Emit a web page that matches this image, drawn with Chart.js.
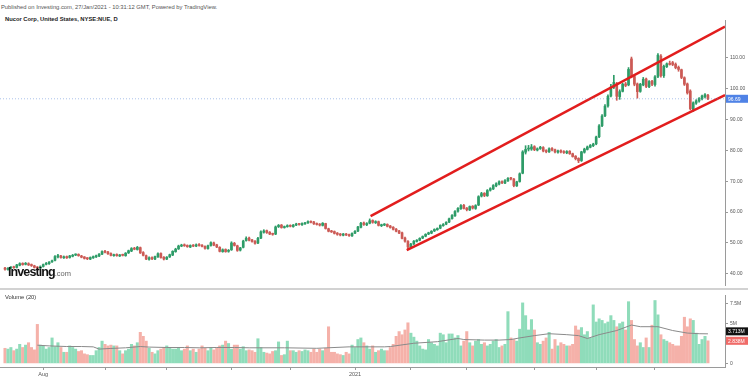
<!doctype html>
<html>
  <head>
    <title>Nucor Corp, NYSE:NUE, D</title>
    <script src="https://cdn.jsdelivr.net/npm/chart.js"></script>
    <style>
      body {
        margin: 0;
        width: 748px;
        height: 381px;
        overflow: hidden;
        background: #fff;
        position: relative;
        font-family: 'Liberation Sans', Arial, sans-serif;
      }
      canvas {
        position: absolute;
        left: 0;
      }
      #priceChart { top: 0; }
      #volumeChart { top: 290px; }
      .published {
        position: absolute; left: 1px; top: 4px;
        font-size: 5.8px; color: #555; white-space: nowrap;
      }
      .title {
        position: absolute; left: 5px; top: 16px;
        font-size: 5.8px; font-weight: bold; color: #222; white-space: nowrap;
      }
      .pane-sep {
        position: absolute; left: 0; top: 288px;
        width: 748px; height: 2px; background: #d2d2d2;
      }
      .vol-title {
        position: absolute; left: 5px; top: 294px;
        font-size: 5.8px; color: #333; white-space: nowrap;
      }
      .logo {
        position: absolute; left: 8px; top: 265px; white-space: nowrap;
        font-weight: bold; font-size: 12.5px; letter-spacing: -0.9px; color: #111;
      }
      .logo span {
        font-weight: normal; font-size: 7.5px; letter-spacing: 0; color: #666;
      }
    </style>
  </head>
  <body>
    <div class="published">Published on Investing.com, 27/Jan/2021 - 10:31:12 GMT, Powered by TradingView.</div>
    <div class="title">Nucor Corp, United States, NYSE:NUE, D</div>
    <canvas id="priceChart" width="748" height="290"></canvas>
    <div class="pane-sep"></div>
    <canvas id="volumeChart" width="748" height="91"></canvas>
    <div class="vol-title">Volume (20)</div>
    <div class="logo">Investing<span>.com</span></div>

    <script>
      // daily candles, one per trading day (mid Jul 2020 .. late Jun 2021)
      const opens = [
        41.9, 41.4, 41.9, 42.3, 42.1, 42.8, 43.4, 43.1, 43.3, 42.9,
        42.6, 42.2, 41.9, 42.4, 43.1, 43.3, 43.9, 44.4, 45.5, 45.8,
        45.2, 45.6, 45.3, 45.7, 46.1, 46.3, 45.8, 45.5, 45.1, 44.8,
        45.2, 45.5, 45.8, 46.4, 47.3, 47.1, 46.6, 45.9, 46.3, 45.8,
        46.2, 45.9, 46.8, 47.4, 48.3, 47.9, 48.5, 46.9, 45.9, 44.7,
        45.3, 44.8, 45.5, 46.6, 45.4, 44.8, 45.5, 46.1, 47.2, 48.1,
        49.0, 49.4, 49.2, 48.7, 49.3, 49.0, 49.5, 49.3, 48.9, 48.2,
        49.2, 50.0, 49.4, 48.6, 47.2, 47.9, 47.3, 47.8, 49.9, 49.1,
        47.7, 48.6, 50.8, 51.6, 51.0, 50.6, 50.0, 51.6, 53.5, 54.0,
        53.5, 53.0, 52.9, 55.3, 55.8, 55.0, 55.3, 55.7, 55.3, 55.8,
        56.2, 55.9, 56.2, 56.5, 57.0, 56.8, 56.3, 56.1, 55.7, 56.3,
        54.6, 53.9, 53.7, 53.2, 52.9, 52.5, 52.9, 52.7, 52.3, 53.2,
        53.9, 55.1, 56.5, 55.9, 56.4, 57.3, 56.6, 56.9, 55.6, 55.8,
        56.0, 55.5, 55.1, 54.5, 53.9, 53.3, 51.6, 50.5, 48.6, 49.7,
        50.5, 50.9, 51.6, 52.2, 52.9, 53.2, 53.9, 54.3, 54.8, 55.6,
        56.1, 56.8, 57.9, 58.8, 60.3, 61.1, 62.2, 61.3, 60.7, 61.9,
        61.2, 62.3, 65.2, 66.1, 65.3, 67.1, 67.5, 68.5, 69.1, 69.9,
        69.4, 70.1, 71.0, 70.7, 68.5, 69.9, 72.6, 79.4, 80.4, 80.4,
        81.2, 80.1, 80.6, 80.9, 79.9, 79.5, 80.6, 80.2, 79.4, 79.9,
        79.6, 79.2, 79.7, 78.9, 78.1, 77.4, 76.7, 79.4, 80.3, 81.0,
        81.5, 82.1, 84.4, 88.0, 91.2, 94.4, 97.6, 100.4, 101.6, 97.4,
        99.1, 101.5, 101.2, 109.6, 103.9, 101.5, 99.1, 101.2, 103.1, 100.6,
        102.4, 101.3, 103.9, 110.5, 104.2, 107.1, 108.2, 108.4, 107.9, 106.9,
        106.1, 103.5, 101.5, 99.2, 93.2, 95.3, 96.0, 96.7, 97.4, 97.8
      ];
      const highs = [
        42.1, 42.0, 42.4, 42.5, 43.1, 43.6, 43.6, 43.7, 43.6, 43.2,
        42.8, 42.4, 42.6, 43.2, 43.7, 44.0, 44.5, 45.9, 46.3, 46.0,
        45.8, 45.8, 46.0, 46.3, 46.5, 46.5, 46.0, 45.6, 45.3, 45.5,
        45.8, 46.1, 46.6, 47.5, 47.6, 47.3, 46.8, 46.4, 46.5, 46.3,
        46.4, 46.9, 47.7, 48.5, 48.6, 48.9, 48.7, 47.2, 46.1, 45.5,
        45.5, 45.8, 46.8, 46.8, 45.6, 45.6, 46.4, 47.5, 48.3, 49.3,
        49.6, 49.7, 49.4, 49.4, 49.5, 49.7, 49.8, 49.5, 49.1, 49.3,
        50.4, 50.3, 49.6, 48.8, 48.1, 48.1, 47.9, 50.4, 50.2, 49.3,
        48.6, 50.9, 52.0, 51.9, 51.2, 50.8, 51.8, 53.9, 54.3, 54.2,
        53.7, 53.2, 55.5, 56.0, 56.0, 55.5, 55.9, 55.9, 56.0, 56.4,
        56.4, 56.5, 56.7, 57.2, 57.2, 57.0, 56.5, 56.3, 56.6, 56.4,
        54.8, 54.1, 53.9, 53.4, 53.1, 53.1, 53.1, 52.9, 53.3, 54.0,
        55.4, 56.7, 56.8, 56.6, 57.8, 57.5, 57.2, 57.1, 56.1, 56.3,
        56.2, 55.7, 55.3, 54.7, 54.1, 53.5, 51.9, 50.8, 49.9, 50.8,
        51.1, 51.7, 52.3, 53.0, 53.5, 54.0, 54.6, 54.9, 55.9, 56.3,
        56.9, 58.1, 59.2, 60.5, 61.5, 62.4, 62.5, 61.5, 62.0, 62.1,
        62.4, 65.3, 66.4, 66.3, 67.3, 67.9, 68.9, 69.5, 70.1, 70.1,
        70.5, 71.2, 71.3, 70.9, 70.0, 72.7, 79.9, 81.5, 81.6, 81.9,
        81.5, 80.8, 81.3, 81.2, 80.2, 80.8, 80.9, 80.4, 80.1, 80.2,
        79.9, 79.9, 79.9, 79.1, 78.3, 77.6, 79.7, 80.7, 81.4, 81.9,
        82.3, 84.6, 88.3, 91.6, 94.8, 98.0, 101.4, 104.3, 102.0, 99.6,
        101.7, 102.0, 106.8, 110.2, 104.3, 101.8, 101.7, 103.6, 103.4, 102.6,
        102.7, 104.2, 111.3, 111.0, 107.6, 108.3, 108.9, 108.8, 108.3, 107.3,
        106.3, 103.8, 101.8, 99.6, 95.7, 96.4, 97.1, 97.9, 98.4, 98.1
      ];
      const lows = [
        41.2, 41.2, 41.7, 41.8, 41.9, 42.6, 42.8, 42.9, 42.7, 42.4,
        41.9, 41.5, 41.7, 42.2, 42.9, 43.1, 43.7, 44.2, 45.2, 45.1,
        45.0, 45.0, 45.1, 45.5, 45.9, 45.7, 45.2, 44.8, 44.6, 44.6,
        45.0, 45.3, 45.6, 46.2, 46.8, 46.3, 45.8, 45.7, 45.7, 45.6,
        45.8, 45.7, 46.6, 47.2, 47.8, 47.7, 46.6, 45.8, 44.6, 44.4,
        44.6, 44.6, 45.3, 45.1, 44.5, 44.6, 45.3, 45.9, 47.0, 47.9,
        48.8, 48.9, 48.6, 48.5, 48.8, 48.8, 49.0, 48.7, 48.0, 48.0,
        49.0, 49.1, 48.5, 47.1, 47.0, 47.0, 47.0, 47.6, 49.0, 47.3,
        47.4, 48.4, 50.6, 50.7, 50.3, 49.6, 49.8, 51.4, 53.2, 53.1,
        52.7, 52.5, 52.7, 55.0, 54.8, 54.8, 55.1, 55.2, 55.1, 55.6,
        55.8, 55.7, 56.0, 56.3, 56.5, 56.0, 55.8, 55.5, 55.5, 54.5,
        53.6, 53.4, 52.9, 52.5, 52.3, 52.3, 52.4, 52.1, 52.1, 53.0,
        53.7, 54.9, 55.7, 55.6, 56.2, 56.4, 56.3, 55.5, 55.3, 55.6,
        55.2, 54.8, 54.2, 53.6, 53.0, 51.3, 50.3, 47.9, 48.2, 49.5,
        50.3, 50.7, 51.4, 52.0, 52.7, 53.0, 53.7, 54.1, 54.6, 55.4,
        55.9, 56.6, 57.7, 58.6, 60.0, 60.9, 61.0, 60.4, 60.5, 61.0,
        60.9, 62.1, 64.9, 65.0, 65.1, 66.8, 67.3, 68.2, 68.8, 69.2,
        69.2, 69.9, 70.4, 68.2, 68.3, 69.7, 72.4, 78.8, 79.8, 80.0,
        79.9, 79.8, 80.3, 79.5, 79.2, 79.3, 79.8, 79.2, 79.1, 79.2,
        79.0, 78.9, 78.7, 77.8, 76.9, 76.0, 76.4, 79.1, 80.1, 80.8,
        81.2, 81.8, 84.1, 87.7, 90.9, 94.0, 97.3, 100.0, 96.2, 96.5,
        98.9, 100.6, 100.9, 103.5, 100.9, 96.9, 98.8, 100.9, 100.3, 100.3,
        100.9, 100.8, 103.5, 103.7, 103.6, 106.8, 107.6, 107.4, 106.4, 105.6,
        103.2, 101.0, 98.2, 93.1, 92.6, 94.9, 95.6, 96.3, 97.0, 96.4
      ];
      const closes = [
        41.5, 41.8, 42.2, 42.0, 42.9, 43.3, 43.0, 43.4, 42.9, 42.7,
        42.1, 41.8, 42.3, 43.0, 43.4, 43.8, 44.2, 45.6, 45.9, 45.3,
        45.5, 45.2, 45.8, 46.0, 46.2, 45.9, 45.4, 45.0, 44.9, 45.3,
        45.6, 45.9, 46.4, 47.2, 47.0, 46.5, 46.0, 46.2, 45.9, 46.1,
        46.0, 46.7, 47.5, 48.2, 48.0, 48.6, 46.8, 46.0, 44.8, 45.2,
        44.9, 45.6, 46.5, 45.3, 44.8, 45.4, 46.2, 47.3, 48.0, 49.0,
        49.3, 49.1, 48.8, 49.2, 49.0, 49.4, 49.2, 48.9, 48.3, 49.1,
        50.1, 49.3, 48.7, 47.3, 47.8, 47.2, 47.6, 50.0, 49.2, 47.6,
        48.4, 50.6, 51.5, 50.9, 50.5, 49.9, 51.5, 53.6, 53.9, 53.4,
        52.9, 52.8, 55.2, 55.7, 55.0, 55.2, 55.6, 55.4, 55.8, 56.1,
        56.0, 56.3, 56.4, 56.9, 56.7, 56.2, 56.0, 55.8, 56.4, 54.7,
        53.8, 53.6, 53.1, 52.8, 52.6, 52.9, 52.6, 52.4, 53.1, 53.8,
        55.2, 56.4, 56.0, 56.3, 57.2, 56.7, 56.9, 55.7, 55.9, 56.0,
        55.4, 55.0, 54.4, 53.8, 53.2, 51.5, 50.6, 48.7, 49.6, 50.6,
        50.9, 51.5, 52.1, 52.8, 53.3, 53.8, 54.4, 54.7, 55.7, 56.0,
        56.7, 57.8, 58.9, 60.2, 61.2, 62.1, 61.2, 60.8, 61.8, 61.3,
        62.1, 65.0, 66.0, 65.4, 67.0, 67.6, 68.6, 69.2, 69.8, 69.5,
        70.2, 70.9, 70.8, 68.6, 69.8, 72.4, 79.5, 80.3, 80.5, 81.1,
        80.2, 80.5, 81.0, 79.8, 79.6, 80.5, 80.1, 79.5, 79.8, 79.5,
        79.3, 79.6, 78.9, 78.0, 77.3, 76.6, 79.5, 80.4, 81.1, 81.6,
        82.0, 84.3, 87.9, 91.1, 94.3, 97.5, 100.5, 102.0, 97.5, 99.0,
        101.4, 101.0, 106.2, 104.0, 101.4, 99.0, 101.4, 103.0, 100.7, 102.3,
        101.4, 103.8, 110.8, 104.2, 107.2, 108.0, 107.8, 107.8, 106.8, 106.2,
        103.6, 101.4, 98.6, 93.5, 95.4, 96.0, 96.8, 97.6, 98.0, 96.69
      ];
      // volume in millions of shares
      const volumes = [
        1.9, 1.8, 2.0, 1.6, 1.8, 2.4, 2.0, 2.3, 2.6, 2.0,
        1.7, 4.9, 2.3, 2.2, 1.8, 2.0, 3.2, 2.1, 2.6, 2.0,
        1.4, 1.4, 2.2, 2.0, 1.8, 1.5, 1.6, 1.2, 1.1, 1.0,
        1.0, 1.6, 2.0, 2.8, 2.4, 2.2, 2.3, 2.2, 2.2, 1.6,
        1.2, 1.6, 1.8, 2.4, 2.2, 2.6, 3.9, 3.4, 2.8, 1.9,
        1.4, 1.2, 1.6, 1.8, 2.0, 2.2, 2.0, 1.8, 1.8, 2.0,
        1.6, 1.8, 2.2, 1.6, 1.8, 1.4, 1.8, 2.2, 1.9, 1.6,
        2.0, 1.7, 2.0, 2.2, 2.3, 2.8, 2.5, 1.8, 2.3, 2.3,
        1.8, 2.1, 1.6, 1.7, 1.6, 1.4, 3.1, 2.0, 1.4, 1.3,
        1.2, 1.5, 1.6, 2.7, 1.0, 1.1, 2.8, 1.6, 1.6, 1.4,
        1.6, 1.5, 1.7, 1.6, 1.4, 1.8, 1.4, 1.8, 1.6, 1.9,
        4.6, 1.4, 1.4, 1.2, 1.1, 1.0, 1.4, 1.2, 2.3, 2.0,
        3.0, 3.2, 2.6, 2.2, 1.8, 2.2, 1.4, 1.6, 1.8, 1.6,
        1.6, 2.0, 2.4, 3.4, 4.0, 3.6, 4.2, 5.1, 3.8, 3.3,
        2.8, 2.2, 1.8, 1.7, 3.0, 2.6, 2.4, 2.2, 3.8, 3.6,
        2.6, 3.7, 3.7, 3.2, 3.5, 2.2, 2.8, 4.0, 2.6, 2.2,
        2.8, 3.0, 2.4, 2.6, 2.2, 2.4, 2.8, 3.0, 2.0, 2.2,
        2.4, 6.5, 3.2, 3.0, 2.8, 4.3, 7.6, 6.0, 4.2, 5.5,
        4.2, 2.6, 2.4, 2.8, 3.2, 3.9, 1.8, 3.0, 2.2, 2.6,
        2.4, 2.2, 2.2, 2.4, 4.7, 4.2, 4.5, 3.6, 4.0, 3.2,
        7.35, 5.2, 5.6, 5.4, 5.0, 5.2, 6.0, 5.4, 4.6, 5.0,
        5.2, 4.2, 7.75, 5.4, 3.0, 2.2, 2.6, 2.0, 3.2, 2.0,
        4.8, 7.9, 6.1, 3.6, 3.0, 2.8, 2.6, 2.4, 2.2, 2.2,
        3.4, 5.8, 4.6, 5.6, 5.4, 3.8, 2.4, 3.0, 3.4, 2.838
      ];
      // 20-day volume average, read at a few bars
      const maIndex = [11, 15, 21, 26, 30, 32, 36, 41, 46, 49, 55, 61, 66, 72, 78, 83, 95, 106, 117, 129, 131, 139, 147, 154, 156, 163, 168, 172, 175, 180, 185, 191, 195, 198, 202, 208, 213, 216, 222, 227, 232, 236, 239];
      const maValues = [2.29, 2.2, 2.12, 2.12, 2.08, 1.8, 1.88, 1.96, 2.12, 2.05, 2.0, 2.0, 1.96, 2.0, 2.0, 1.96, 1.96, 1.9, 2.08, 2.08, 2.12, 2.53, 2.73, 3.13, 3.0, 2.93, 2.93, 3.0, 3.2, 3.49, 3.73, 3.61, 3.49, 3.13, 3.61, 4.13, 4.82, 4.61, 4.61, 4.13, 3.81, 3.73, 3.713];

      const monthTicks = [13, 34, 55, 77, 97, 119, 138, 157, 180, 201, 221];
      const monthLabels = ['Aug', '', '', '', '', '2021', '', '', '', '', ''];
      const priceTicks = [40, 50, 60, 70, 80, 90, 100, 110];
      const volumeTicks = [0, 5, 7.5];

      // trend channel drawn on the chart: [bar index, price]
      const channelUpper = [[124.3, 58.7], [244.8, 120.1]];
      const channelLower = [[136.6, 47.7], [244.8, 97.9]];

      const lastPrice = 96.69;
      const lastVolume = 2.838;
      const lastVolumeMA = 3.713;

      const X_MIN = -1.7, X_MAX = 244.8;
      const UP = '#2e9c68', DOWN = '#cc5a55';
      const VOL_UP = '#8fdcba', VOL_DOWN = '#f5b1a9';
      const FONT = "'Liberation Sans', Arial, sans-serif";

      Chart.defaults.font.family = FONT;
      Chart.defaults.animation = false;

      const idx = closes.map((c, i) => i);
      const isUp = (i) => closes[i] >= opens[i];

      // small coloured value tags on the right axis
      function valueTags(tags) {
        return {
          id: 'valueTags',
          afterDraw(chart) {
            const ctx = chart.ctx;
            const y = chart.scales.y;
            const left = chart.chartArea.right + 1;
            ctx.save();
            ctx.font = '5px ' + FONT;
            ctx.textBaseline = 'middle';
            tags.forEach((tag) => {
              const py = y.getPixelForValue(tag.value) + (tag.shift || 0);
              ctx.fillStyle = tag.bg;
              ctx.fillRect(left, py - 4, 22, 8);
              ctx.fillStyle = '#fff';
              ctx.fillText(tag.text, left + 2, py + 0.5);
            });
            ctx.restore();
          },
        };
      }

      const rightAxis = (min, max, ticks, fmt) => ({
        position: 'right',
        min: min,
        max: max,
        afterBuildTicks: (s) => { s.ticks = ticks.map((v) => ({ value: v })); },
        afterFit: (s) => { s.width = 23; },
        ticks: { callback: fmt, font: { size: 5 }, color: '#555', padding: 2 },
        grid: { drawOnChartArea: false, tickLength: 3, color: '#9a9a9a' },
        border: { color: '#9a9a9a' },
      });

      const lineSet = (pts, color, width, dash) => ({
        type: 'line',
        data: pts.map((p) => ({ x: p[0], y: p[1] })),
        borderColor: color,
        borderWidth: width,
        borderDash: dash || [],
        pointRadius: 0,
        order: 0,
      });

      new Chart(document.getElementById('priceChart'), {
        type: 'bar',
        data: {
          datasets: [
            lineSet([[X_MIN, lastPrice], [X_MAX, lastPrice]], 'rgba(90,135,215,0.5)', 1, [1, 2]),
            {
              data: idx.map((i) => ({ x: i, y: [lows[i], highs[i]] })),
              backgroundColor: (c) => (isUp(c.dataIndex) ? UP : DOWN),
              barThickness: 1,
              grouped: false,
              order: 2,
            },
            {
              data: idx.map((i) => ({ x: i, y: [opens[i], closes[i]] })),
              backgroundColor: (c) => (isUp(c.dataIndex) ? UP : DOWN),
              barThickness: 2,
              minBarLength: 1,
              grouped: false,
              order: 1,
            },
            lineSet(channelUpper, '#e21d1d', 2.5),
            lineSet(channelLower, '#e21d1d', 2.5),
          ],
        },
        options: {
          responsive: false,
          layout: { padding: { top: 20, bottom: 2, left: 0, right: 0 } },
          plugins: { legend: { display: false }, tooltip: { enabled: false } },
          scales: {
            x: { type: 'linear', min: X_MIN, max: X_MAX, offset: false, display: false },
            y: rightAxis(36.4, 122.2, priceTicks, (v) => v.toFixed(2)),
          },
        },
        plugins: [valueTags([{ value: lastPrice, text: lastPrice.toFixed(2), bg: '#4f82e6' }])],
      });

      new Chart(document.getElementById('volumeChart'), {
        type: 'bar',
        data: {
          datasets: [
            {
              type: 'line',
              data: maIndex.map((x, k) => ({ x: x, y: maValues[k] })),
              borderColor: '#8a8a8a',
              borderWidth: 1,
              pointRadius: 0,
              order: 0,
            },
            {
              data: idx.map((i) => ({ x: i, y: volumes[i] })),
              backgroundColor: (c) => (isUp(c.dataIndex) ? VOL_UP : VOL_DOWN),
              barThickness: 2.4,
              order: 1,
            },
          ],
        },
        options: {
          responsive: false,
          layout: { padding: { top: 2, bottom: 0, left: 0, right: 0 } },
          plugins: { legend: { display: false }, tooltip: { enabled: false } },
          scales: {
            x: {
              type: 'linear',
              min: X_MIN,
              max: X_MAX,
              offset: false,
              afterBuildTicks: (s) => { s.ticks = monthTicks.map((v) => ({ value: v })); },
              afterFit: (s) => { s.height = 14; },
              ticks: {
                autoSkip: false,
                maxRotation: 0,
                callback: (v, k) => monthLabels[k],
                font: { size: 5.5 },
                color: '#555',
                padding: 1,
              },
              grid: { drawOnChartArea: false, tickLength: 3, color: '#9a9a9a', offset: false },
              border: { color: '#9a9a9a' },
            },
            y: rightAxis(-0.45, 8.59, volumeTicks, (v) => (v === 0 ? '0' : v + 'M')),
          },
        },
        plugins: [valueTags([
          { value: lastVolumeMA, text: lastVolumeMA.toFixed(3) + 'M', bg: '#111', shift: -2.5 },
          { value: lastVolume, text: lastVolume.toFixed(3) + 'M', bg: '#f06b68' },
        ])],
      });
    </script>
  </body>
</html>
